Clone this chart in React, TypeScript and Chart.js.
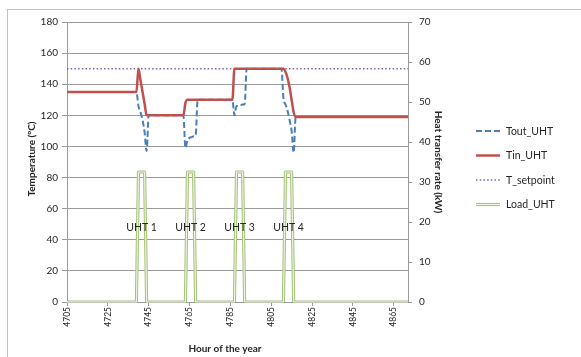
import React, { useEffect, useRef } from 'react';
import { Chart, registerables } from 'chart.js';

Chart.register(...registerables);

// ---- Data ----
const HOURS: string[] = [];
for (let h = 4705; h <= 4872; h++) HOURS.push(String(h));
const X_LABEL_EVERY = 20;

const TOUT_UHT: number[] = [
  135, 135, 135, 135, 135, 135, 135, 135, 135, 135, 135, 135, 135, 135, 135, 135, 135, 135, 135, 135, 135, 135, 135, 135,
  135, 135, 135, 135, 135, 135, 135, 135, 135, 135, 135, 126, 122, 117, 109, 97, 120, 120, 120, 120, 120, 120, 120, 120,
  120, 120, 120, 120, 120, 120, 120, 120, 120, 120, 99, 104, 105.5, 106, 106.5, 107, 130, 130, 130, 130, 130, 130, 130, 130,
  130, 130, 130, 130, 130, 130, 130, 130, 130, 130, 120, 126, 126, 126.5, 127, 127, 150, 150, 150, 150, 150, 150, 150, 150,
  150, 150, 150, 150, 150, 150, 150, 150, 150, 150, 131, 127, 123, 117, 110, 96, 119, 119, 119, 119, 119, 119, 119, 119,
  119, 119, 119, 119, 119, 119, 119, 119, 119, 119, 119, 119, 119, 119, 119, 119, 119, 119, 119, 119, 119, 119, 119, 119,
  119, 119, 119, 119, 119, 119, 119, 119, 119, 119, 119, 119, 119, 119, 119, 119, 119, 119, 119, 119, 119, 119, 119, 119,
];

const TIN_UHT: number[] = [
  135, 135, 135, 135, 135, 135, 135, 135, 135, 135, 135, 135, 135, 135, 135, 135, 135, 135, 135, 135, 135, 135, 135, 135,
  135, 135, 135, 135, 135, 135, 135, 135, 135, 135, 135, 150, 142.5, 135, 127.5, 120, 120, 120, 120, 120, 120, 120, 120, 120,
  120, 120, 120, 120, 120, 120, 120, 120, 120, 120, 128, 130, 130, 130, 130, 130, 130, 130, 130, 130, 130, 130, 130, 130,
  130, 130, 130, 130, 130, 130, 130, 130, 130, 130, 150, 150, 150, 150, 150, 150, 150, 150, 150, 150, 150, 150, 150, 150,
  150, 150, 150, 150, 150, 150, 150, 150, 150, 150, 150, 148, 144, 138, 130, 122, 119, 119, 119, 119, 119, 119, 119, 119,
  119, 119, 119, 119, 119, 119, 119, 119, 119, 119, 119, 119, 119, 119, 119, 119, 119, 119, 119, 119, 119, 119, 119, 119,
  119, 119, 119, 119, 119, 119, 119, 119, 119, 119, 119, 119, 119, 119, 119, 119, 119, 119, 119, 119, 119, 119, 119, 119,
];

const T_SETPOINT: number[] = [
  150, 150, 150, 150, 150, 150, 150, 150, 150, 150, 150, 150, 150, 150, 150, 150, 150, 150, 150, 150, 150, 150, 150, 150,
  150, 150, 150, 150, 150, 150, 150, 150, 150, 150, 150, 150, 150, 150, 150, 150, 150, 150, 150, 150, 150, 150, 150, 150,
  150, 150, 150, 150, 150, 150, 150, 150, 150, 150, 150, 150, 150, 150, 150, 150, 150, 150, 150, 150, 150, 150, 150, 150,
  150, 150, 150, 150, 150, 150, 150, 150, 150, 150, 150, 150, 150, 150, 150, 150, 150, 150, 150, 150, 150, 150, 150, 150,
  150, 150, 150, 150, 150, 150, 150, 150, 150, 150, 150, 150, 150, 150, 150, 150, 150, 150, 150, 150, 150, 150, 150, 150,
  150, 150, 150, 150, 150, 150, 150, 150, 150, 150, 150, 150, 150, 150, 150, 150, 150, 150, 150, 150, 150, 150, 150, 150,
  150, 150, 150, 150, 150, 150, 150, 150, 150, 150, 150, 150, 150, 150, 150, 150, 150, 150, 150, 150, 150, 150, 150, 150,
];

const LOAD_UHT: number[] = [
  0, 0, 0, 0, 0, 0, 0, 0, 0, 0, 0, 0, 0, 0, 0, 0, 0, 0, 0, 0, 0, 0, 0, 0,
  0, 0, 0, 0, 0, 0, 0, 0, 0, 0, 0, 32.5, 32.5, 32.5, 32.5, 0, 0, 0, 0, 0, 0, 0, 0, 0,
  0, 0, 0, 0, 0, 0, 0, 0, 0, 0, 0, 32.5, 32.5, 32.5, 32.5, 0, 0, 0, 0, 0, 0, 0, 0, 0,
  0, 0, 0, 0, 0, 0, 0, 0, 0, 0, 0, 32.5, 32.5, 32.5, 32.5, 0, 0, 0, 0, 0, 0, 0, 0, 0,
  0, 0, 0, 0, 0, 0, 0, 0, 0, 0, 0, 32.5, 32.5, 32.5, 32.5, 0, 0, 0, 0, 0, 0, 0, 0, 0,
  0, 0, 0, 0, 0, 0, 0, 0, 0, 0, 0, 0, 0, 0, 0, 0, 0, 0, 0, 0, 0, 0, 0, 0,
  0, 0, 0, 0, 0, 0, 0, 0, 0, 0, 0, 0, 0, 0, 0, 0, 0, 0, 0, 0, 0, 0, 0, 0,
];

const UHT_LABELS = ['UHT 1', 'UHT 2', 'UHT 3', 'UHT 4'];
const SERIES_NAMES = ['Tout_UHT', 'Tin_UHT', 'T_setpoint', 'Load_UHT'];
const LEFT_TITLE = 'Temperature (ºC)';
const RIGHT_TITLE = 'Heat transfer rate (kW)';
const X_TITLE = 'Hour of the year';

// ---- Styles ----
const FONT = 'Lato, "Open Sans", sans-serif';
const TEXT = '#262626';
const GRID = '#9a9a9a';
const BLUE = '#4a7ebb';
const RED = '#c0504d';
const PURPLE = '#8064a2';
const GREEN = '#a6c47a';
const GREEN_INNER = '#eef4e3';
const BLUE_DASH = [6, 3];
const PURPLE_DASH = [1.5, 2.2];

function strokeSample(ctx: CanvasRenderingContext2D, i: number, x0: number, x1: number, y: number) {
  ctx.save();
  ctx.beginPath();
  ctx.moveTo(x0, y);
  ctx.lineTo(x1, y);
  if (i === 0) { ctx.strokeStyle = BLUE; ctx.lineWidth = 2; ctx.setLineDash(BLUE_DASH); ctx.stroke(); }
  if (i === 1) { ctx.strokeStyle = RED; ctx.lineWidth = 2.5; ctx.stroke(); }
  if (i === 2) { ctx.strokeStyle = PURPLE; ctx.lineWidth = 1.5; ctx.setLineDash(PURPLE_DASH); ctx.stroke(); }
  if (i === 3) {
    ctx.strokeStyle = GREEN; ctx.lineWidth = 3.2; ctx.stroke();
    ctx.beginPath(); ctx.moveTo(x0, y); ctx.lineTo(x1, y);
    ctx.strokeStyle = GREEN_INNER; ctx.lineWidth = 1.1; ctx.stroke();
  }
  ctx.restore();
}

const decor = {
  id: 'decor',
  beforeDraw(chart: any) {
    const ctx = chart.ctx as CanvasRenderingContext2D;
    ctx.save();
    ctx.fillStyle = '#ffffff';
    ctx.fillRect(0, 0, chart.width, chart.height);
    ctx.strokeStyle = '#c2c2c2';
    ctx.lineWidth = 1;
    ctx.strokeRect(7.5, 9.5, chart.width + 40, chart.height + 40);
    ctx.restore();
  },
  afterDatasetsDraw(chart: any) {
    const ctx = chart.ctx as CanvasRenderingContext2D;
    const meta = chart.getDatasetMeta(3);
    const area = chart.chartArea;
    ctx.save();
    ctx.beginPath();
    ctx.rect(area.left - 2, area.top - 2, area.right - area.left + 4, area.bottom - area.top + 4);
    ctx.clip();
    ctx.beginPath();
    meta.data.forEach((p: any, i: number) => (i ? ctx.lineTo(p.x, p.y) : ctx.moveTo(p.x, p.y)));
    ctx.strokeStyle = GREEN_INNER;
    ctx.lineWidth = 1.1;
    ctx.lineJoin = 'miter';
    ctx.stroke();
    ctx.restore();
  },
  afterDraw(chart: any) {
    const ctx = chart.ctx as CanvasRenderingContext2D;
    const xs = chart.scales.x;
    const ys = chart.scales.y;
    ctx.save();
    ctx.fillStyle = TEXT;
    ctx.textAlign = 'center';
    ctx.textBaseline = 'middle';

    // axis titles
    ctx.font = `bold 10px ${FONT}`;
    ctx.save();
    ctx.translate(32, 159);
    ctx.rotate(-Math.PI / 2);
    ctx.fillText(LEFT_TITLE, 0, 0);
    ctx.restore();
    ctx.save();
    ctx.translate(438, 162);
    ctx.rotate(Math.PI / 2);
    ctx.fillText(RIGHT_TITLE, 0, 0);
    ctx.restore();
    ctx.fillText(X_TITLE, 225, 349);

    // UHT annotations, centred on each load pulse
    ctx.font = `10.5px ${FONT}`;
    const runs: [number, number][] = [];
    let start = -1;
    LOAD_UHT.forEach((v, i) => {
      if (v > 0 && start < 0) start = i;
      if (v <= 0 && start >= 0) { runs.push([start, i - 1]); start = -1; }
    });
    runs.forEach(([a, b], k) => {
      const cx = (xs.getPixelForValue(a) + xs.getPixelForValue(b)) / 2;
      ctx.fillText(UHT_LABELS[k] ?? '', cx, ys.getPixelForValue(48));
    });

    // legend
    ctx.font = `10.5px ${FONT}`;
    ctx.textAlign = 'left';
    const ly = [131, 155.5, 180, 204.5];
    SERIES_NAMES.forEach((name, i) => {
      strokeSample(ctx, i, 476, 500, ly[i]);
      ctx.fillStyle = TEXT;
      ctx.fillText(name, 506, ly[i] + 0.5);
    });
    ctx.restore();
  },
};

export default function App() {
  const ref = useRef<HTMLCanvasElement | null>(null);

  useEffect(() => {
    if (!ref.current) return;
    const tickFont = { family: FONT, size: 10 };
    const chart = new Chart(ref.current, {
      type: 'line',
      data: {
        labels: HOURS,
        datasets: [
          {
            label: SERIES_NAMES[1], data: TIN_UHT, yAxisID: 'y', borderColor: RED, borderWidth: 2.5,
            cubicInterpolationMode: 'monotone', order: 0,
          },
          {
            label: SERIES_NAMES[0], data: TOUT_UHT, yAxisID: 'y', borderColor: BLUE, borderWidth: 2,
            borderDash: BLUE_DASH, cubicInterpolationMode: 'monotone', order: 1,
          },
          {
            label: SERIES_NAMES[2], data: T_SETPOINT, yAxisID: 'y', borderColor: PURPLE, borderWidth: 1.5,
            borderDash: PURPLE_DASH, order: 2,
          },
          {
            label: SERIES_NAMES[3], data: LOAD_UHT, yAxisID: 'y1', borderColor: GREEN, borderWidth: 3.2,
            order: 3,
          },
        ],
      },
      options: {
        responsive: false,
        animation: false,
        devicePixelRatio: 1,
        layout: { padding: { left: 0, right: 133, top: 22, bottom: 0 } },
        elements: { point: { radius: 0, hoverRadius: 0 }, line: { fill: false, borderJoinStyle: 'round' } },
        plugins: { legend: { display: false }, tooltip: { enabled: false } },
        events: [],
        scales: {
          x: {
            type: 'category',
            offset: false,
            grid: { drawOnChartArea: false, color: GRID, tickLength: 4 },
            border: { color: GRID },
            ticks: {
              autoSkip: false,
              minRotation: 90,
              maxRotation: 90,
              padding: 1,
              color: TEXT,
              font: { family: FONT, size: 8.5 },
              callback: (_v: any, i: number) => (i % X_LABEL_EVERY === 0 ? HOURS[i] : null),
            },
            afterFit: (s: any) => { s.height = 55; },
          },
          y: {
            position: 'left',
            min: 0,
            max: 180,
            grid: { color: GRID, tickLength: 5 },
            border: { color: GRID },
            ticks: { stepSize: 20, padding: 4, color: TEXT, font: tickFont },
            afterFit: (s: any) => { s.width = 67; },
          },
          y1: {
            position: 'right',
            min: 0,
            max: 70,
            grid: { drawOnChartArea: false, color: GRID, tickLength: 4 },
            border: { color: GRID },
            ticks: { stepSize: 10, padding: 7, color: TEXT, font: tickFont },
            afterFit: (s: any) => { s.width = 40; },
          },
        },
      } as any,
      plugins: [decor],
    });
    return () => chart.destroy();
  }, []);

  return (
    <div style={{ position: 'absolute', left: 0, top: 0, width: 581, height: 357, overflow: 'hidden' }}>
      <canvas ref={ref} width={581} height={357} style={{ display: 'block', width: 581, height: 357 }} />
    </div>
  );
}
